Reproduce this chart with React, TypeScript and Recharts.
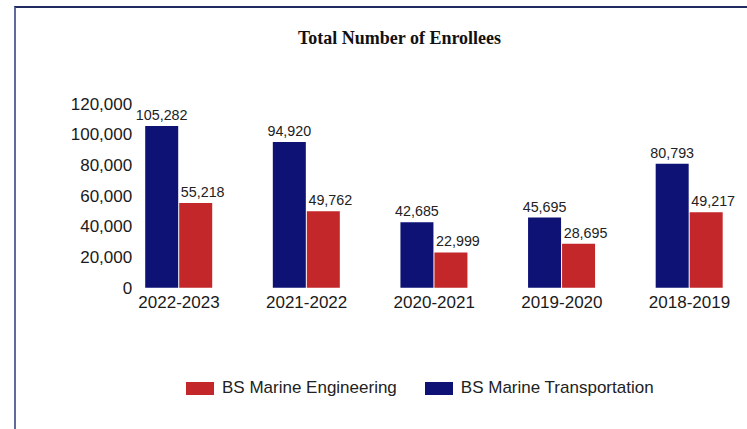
import { BarChart, Bar, XAxis, YAxis, Legend, LabelList } from "recharts";

const years = ["2022-2023", "2021-2022", "2020-2021", "2019-2020", "2018-2019"];
const transportation = [105282, 94920, 42685, 45695, 80793];
const engineering = [55218, 49762, 22999, 28695, 49217];
const yTicks = [0, 20000, 40000, 60000, 80000, 100000, 120000];

const BLUE = "#0e1275";
const RED = "#c3272a";
const FONT = "'Liberation Sans', Arial, sans-serif";

const data = years.map((year, i) => ({
  year,
  transportation: transportation[i],
  engineering: engineering[i],
}));

const fmt = (v: unknown) => Number(v).toLocaleString("en-US");

function LegendBox() {
  const item = (color: string, label: string, gap: number) => (
    <div style={{ display: "flex", alignItems: "center", marginRight: gap }}>
      <div style={{ width: 28, height: 13, background: color, marginRight: 8 }} />
      <span style={{ fontSize: 17, color: "#222", fontFamily: FONT }}>{label}</span>
    </div>
  );
  return (
    <div style={{ display: "flex", alignItems: "center", height: 20, paddingLeft: 186 }}>
      {item(RED, "BS Marine Engineering", 28)}
      {item(BLUE, "BS Marine Transportation", 0)}
    </div>
  );
}

export default function App() {
  return (
    <div
      style={{
        position: "absolute",
        left: 0,
        top: 0,
        width: 747,
        height: 429,
        overflow: "hidden",
        background: "#fff",
      }}
    >
      <div
        style={{
          position: "absolute",
          left: 14,
          top: 6,
          width: 760,
          height: 440,
          borderTop: "2px solid #1f2a5e",
          borderLeft: "2px solid #5e6b9c",
        }}
      />
      <div
        style={{
          position: "absolute",
          left: 0,
          top: 29,
          width: 799,
          textAlign: "center",
          fontFamily: "'Liberation Serif', serif",
          fontWeight: "bold",
          fontSize: 18,
          lineHeight: "18px",
          color: "#111",
          whiteSpace: "nowrap",
        }}
      >
        Total Number of Enrollees
      </div>
      <div style={{ position: "absolute", left: 0, top: 0 }}>
        <BarChart
          width={760}
          height={429}
          data={data}
          margin={{ top: 103.5, right: 6.7, left: 0, bottom: 31 }}
          barSize={33}
          barGap={1}
        >
          <XAxis
            dataKey="year"
            axisLine={false}
            tickLine={false}
            tickSize={0}
            tickMargin={8}
            height={90.3}
            tick={{ fill: "#1a1a1a", fontSize: 17, fontFamily: FONT }}
          />
          <YAxis
            width={115.2}
            domain={[0, 120000]}
            ticks={yTicks}
            axisLine={false}
            tickLine={false}
            tickSize={0}
            tickMargin={-17}
            tickFormatter={fmt}
            tick={{ fill: "#1a1a1a", fontSize: 17, fontFamily: FONT }}
          />
          <Legend verticalAlign="bottom" content={() => <LegendBox />} />
          <Bar dataKey="transportation" fill={BLUE} isAnimationActive={false}>
            <LabelList
              dataKey="transportation"
              position="top"
              offset={6}
              formatter={fmt}
              style={{ fill: "#222", fontSize: 14.3, fontFamily: FONT }}
            />
          </Bar>
          <Bar dataKey="engineering" fill={RED} isAnimationActive={false}>
            <LabelList
              dataKey="engineering"
              position="top"
              offset={6}
              dx={7}
              formatter={fmt}
              style={{ fill: "#222", fontSize: 14.3, fontFamily: FONT }}
            />
          </Bar>
        </BarChart>
      </div>
    </div>
  );
}
